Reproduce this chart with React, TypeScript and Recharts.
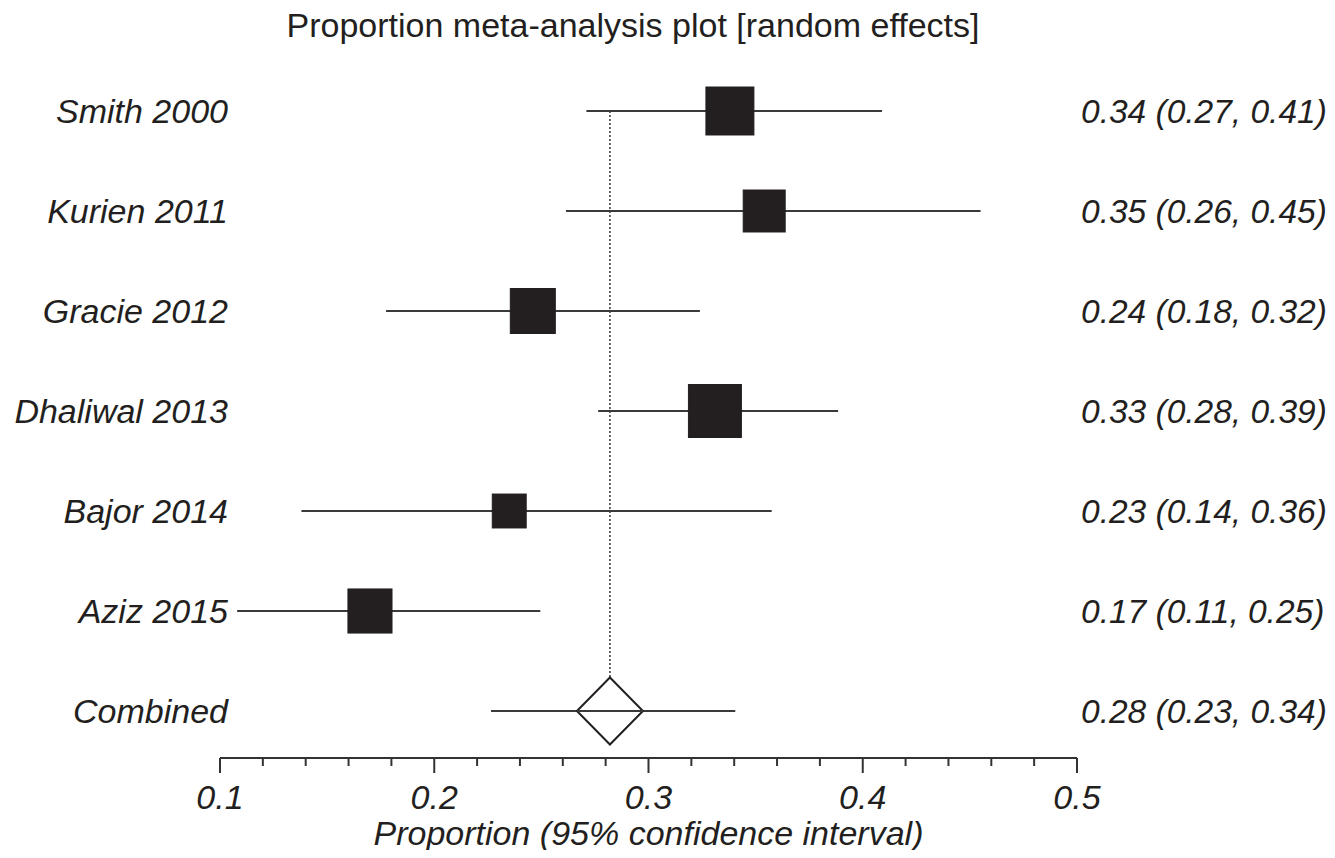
import React from "react";
import {
  ScatterChart,
  Scatter,
  XAxis,
  YAxis,
  ErrorBar,
  ReferenceLine,
} from "recharts";

const studies = [
  "Smith 2000",
  "Kurien 2011",
  "Gracie 2012",
  "Dhaliwal 2013",
  "Bajor 2014",
  "Aziz 2015",
  "Combined",
];
const estimates = [0.338, 0.354, 0.246, 0.331, 0.235, 0.17, 0.282];
const lowerCI = [0.271, 0.2615, 0.1775, 0.2765, 0.138, 0.108, 0.2265];
const upperCI = [0.409, 0.455, 0.324, 0.3885, 0.3575, 0.2495, 0.3405];
// relative study weights (%), box area follows weight
const weights = [19.2, 14.7, 16.9, 23.4, 9.6, 16.2];
const resultLabels = [
  "0.34 (0.27, 0.41)",
  "0.35 (0.26, 0.45)",
  "0.24 (0.18, 0.32)",
  "0.33 (0.28, 0.39)",
  "0.23 (0.14, 0.36)",
  "0.17 (0.11, 0.25)",
  "0.28 (0.23, 0.34)",
];
const xTicks = [
  0.1, 0.12, 0.14, 0.16, 0.18, 0.2, 0.22, 0.24, 0.26, 0.28, 0.3, 0.32, 0.34,
  0.36, 0.38, 0.4, 0.42, 0.44, 0.46, 0.48, 0.5,
];
const xMajorLabels = ["0.1", "0.2", "0.3", "0.4", "0.5"];
const pooledEstimate = 0.282;

const INK = "#231f20";
const FONT = "'Liberation Sans', Arial, Helvetica, sans-serif";
const FS = 34;
const rowTicks = studies.map((_, i) => i);

const data = studies.map((name, i) => ({
  name,
  row: i,
  est: estimates[i],
  err: [estimates[i] - lowerCI[i], upperCI[i] - estimates[i]],
  weight: weights[i],
  pooled: i === studies.length - 1,
}));

const Marker = (props: any) => {
  const { cx, cy, payload } = props;
  if (cx == null || cy == null) return null;
  if (payload.pooled) {
    const hw = 33;
    const hh = 33.5;
    return (
      <g>
        <polygon
          points={`${cx - hw},${cy} ${cx},${cy - hh} ${cx + hw},${cy} ${cx},${cy + hh}`}
          fill="#fff"
          stroke={INK}
          strokeWidth={2}
        />
        <line x1={cx - hw} x2={cx + hw} y1={cy} y2={cy} stroke="#3a3a3a" strokeWidth={2} />
      </g>
    );
  }
  const side = 10.95 * Math.sqrt(payload.weight);
  return (
    <rect
      x={cx - side / 2}
      y={cy - side / 2}
      width={side}
      height={side}
      fill={INK}
      stroke={INK}
      strokeWidth={1}
    />
  );
};

const XTick = (props: any) => {
  const { x, y, payload } = props;
  const v = payload.value;
  const major = Math.abs(v * 10 - Math.round(v * 10)) < 1e-6;
  return (
    <g>
      <line x1={x} x2={x} y1={y} y2={y + (major ? 15 : 8)} stroke="#333" strokeWidth={2} />
      {major && (
        <text
          x={x}
          y={y + 51}
          textAnchor="middle"
          fontSize={FS}
          fontStyle="italic"
          fontFamily={FONT}
          fill={INK}
        >
          {xMajorLabels[Math.round(v * 10) - 1]}
        </text>
      )}
    </g>
  );
};

const LeftTick = (props: any) => {
  const { x, y, payload } = props;
  return (
    <text
      x={x + 8}
      y={y + 12}
      textAnchor="end"
      fontSize={FS}
      fontStyle="italic"
      fontFamily={FONT}
      fill={INK}
    >
      {studies[payload.value]}
    </text>
  );
};

const RightTick = (props: any) => {
  const { x, y, payload } = props;
  return (
    <text
      x={x + 4}
      y={y + 12}
      textAnchor="start"
      fontSize={33.5}
      fontStyle="italic"
      fontFamily={FONT}
      fill={INK}
    >
      {resultLabels[payload.value]}
    </text>
  );
};

export default function App() {
  return (
    <div
      style={{
        position: "relative",
        margin: -8,
        width: 1335,
        height: 858,
        fontFamily: FONT,
        background: "#fff",
      }}
    >
      <div
        style={{
          position: "absolute",
          top: 8,
          left: 8,
          width: 1250,
          textAlign: "center",
          fontSize: FS,
          lineHeight: `${FS}px`,
          color: INK,
        }}
      >
        Proportion meta-analysis plot [random effects]
      </div>
      <ScatterChart
        width={1335}
        height={858}
        margin={{ top: 61, right: 8, bottom: 20, left: 20 }}
      >
        <XAxis
          type="number"
          dataKey="est"
          domain={[0.1, 0.5]}
          ticks={xTicks}
          allowDataOverflow
          interval={0}
          height={80}
          tickSize={0}
          tickMargin={0}
          tickLine={false}
          axisLine={{ stroke: "#333", strokeWidth: 2 }}
          tick={<XTick />}
        />
        <YAxis
          yAxisId="left"
          type="number"
          dataKey="row"
          domain={[-0.5, 6.47]}
          ticks={rowTicks}
          reversed
          allowDataOverflow
          interval={0}
          width={200}
          tickSize={0}
          tickMargin={0}
          tickLine={false}
          axisLine={false}
          tick={<LeftTick />}
        />
        <YAxis
          yAxisId="right"
          orientation="right"
          type="number"
          domain={[-0.5, 6.47]}
          ticks={rowTicks}
          reversed
          allowDataOverflow
          interval={0}
          width={250}
          tickSize={0}
          tickMargin={0}
          tickLine={false}
          axisLine={false}
          tick={<RightTick />}
        />
        <ReferenceLine
          yAxisId="left"
          segment={[
            { x: pooledEstimate, y: 0 },
            { x: pooledEstimate, y: studies.length - 1 },
          ]}
          stroke="#333"
          strokeWidth={1.5}
          strokeDasharray="2 2"
        />
        <Scatter
          yAxisId="left"
          data={data}
          dataKey="row"
          shape={<Marker />}
          isAnimationActive={false}
        >
          <ErrorBar
            dataKey="err"
            direction="x"
            width={0}
            stroke="#3a3a3a"
            strokeWidth={2}
          />
        </Scatter>
      </ScatterChart>
      <div
        style={{
          position: "absolute",
          top: 816,
          left: 220,
          width: 857,
          textAlign: "center",
          fontSize: FS,
          lineHeight: `${FS}px`,
          fontStyle: "italic",
          color: INK,
        }}
      >
        Proportion (95% confidence interval)
      </div>
    </div>
  );
}
